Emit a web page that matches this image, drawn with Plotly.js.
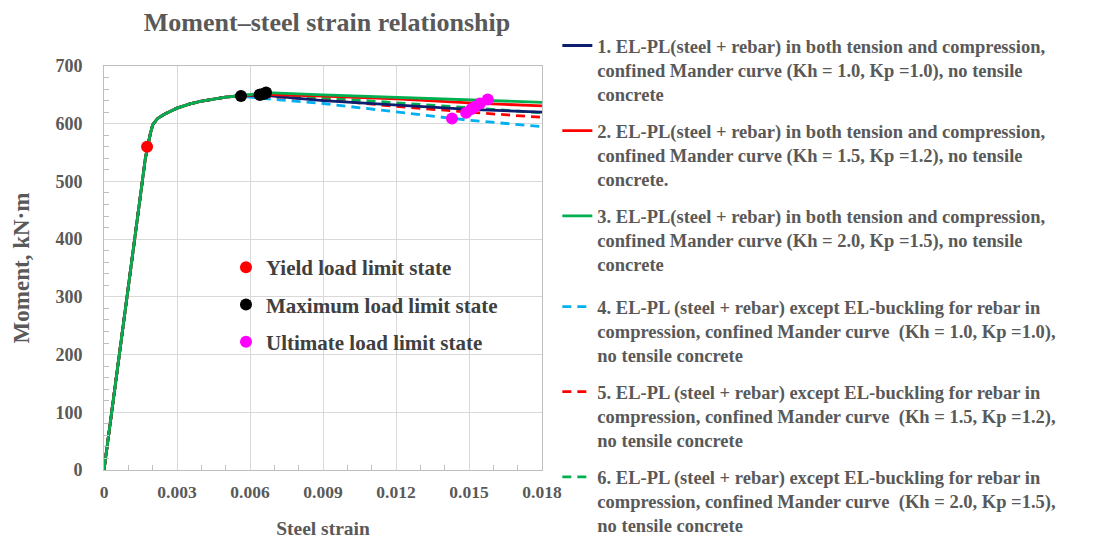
<!DOCTYPE html>
<html>
<head>
<meta charset="utf-8">
<script src="https://cdn.plot.ly/plotly-3.0.1.min.js"></script>
<style>html,body{margin:0;padding:0;background:#fff;} #chart{width:1094px;height:539px;}</style>
</head>
<body>
<div id="chart"></div>
<script>
// ---- shared rising branch (all six curves coincide here) ----
const strainRise = [0, 0.0017, 0.0019, 0.002, 0.0022, 0.0025, 0.003, 0.0035, 0.004, 0.0045, 0.005, 0.0055];
const momentRise = [0, 540, 582, 598, 609, 617, 627, 634, 639, 643, 646, 648];

// ---- post-peak branches of each curve ----
const strain1 = [0.0064, 0.009, 0.012, 0.015, 0.018];
const moment1 = [650, 640, 632, 625, 620];
const strain2 = [0.0065, 0.009, 0.012, 0.015, 0.018];
const moment2 = [651, 648, 643, 636, 631];
const strain3 = [0.0067, 0.009, 0.012, 0.015, 0.018];
const moment3 = [654, 650, 646, 641, 637];
const strain4 = [0.0057, 0.009, 0.012, 0.015, 0.018];
const moment4 = [647, 635, 621, 606, 595];
const strain5 = [0.006, 0.009, 0.012, 0.015, 0.018];
const moment5 = [649, 642, 630, 620, 611];
const strain6 = [0.0066, 0.009, 0.012, 0.015, 0.018];
const moment6 = [652, 645, 636, 628, 619];

// ---- limit-state points ----
const yieldStrain = [0.00177];
const yieldMoment = [560];
const maxStrain = [0.00563, 0.0064, 0.0064, 0.0065, 0.0066, 0.00666];
const maxMoment = [648, 650, 650, 651, 652, 654];
const ultStrain = [0.0143, 0.01488, 0.0151, 0.01525, 0.01545, 0.01577];
const ultMoment = [609, 619, 625.6, 629.6, 635, 642];

const seriesNames = [
  "1. EL-PL(steel + rebar) in both tension and compression,<br>confined Mander curve (Kh = 1.0, Kp =1.0), no tensile<br>concrete",
  "2. EL-PL(steel + rebar) in both tension and compression,<br>confined Mander curve (Kh = 1.5, Kp =1.2), no tensile<br>concrete.",
  "3. EL-PL(steel + rebar) in both tension and compression,<br>confined Mander curve (Kh = 2.0, Kp =1.5), no tensile<br>concrete",
  "4. EL-PL (steel + rebar) except EL-buckling for rebar in<br>compression, confined Mander curve  (Kh = 1.0, Kp =1.0),<br>no tensile concrete",
  "5. EL-PL (steel + rebar) except EL-buckling for rebar in<br>compression, confined Mander curve  (Kh = 1.5, Kp =1.2),<br>no tensile concrete",
  "6. EL-PL (steel + rebar) except EL-buckling for rebar in<br>compression, confined Mander curve  (Kh = 2.0, Kp =1.5),<br>no tensile concrete"
];
const markerNames = ["Yield load limit state", "Maximum load limit state", "Ultimate load limit state"];

const tails = [[strain1, moment1], [strain2, moment2], [strain3, moment3], [strain4, moment4], [strain5, moment5], [strain6, moment6]];
const colors = ["#0c1f6e", "#ff0000", "#00b050", "#00b0f0", "#ff0000", "#00b050"];
const dashes = ["solid", "solid", "solid", "9px,6px", "9px,6px", "9px,6px"];

const traces = [];
const order = [3, 4, 5, 0, 1, 2];
order.forEach(function (i) {
  traces.push({
    x: strainRise.concat(tails[i][0]),
    y: momentRise.concat(tails[i][1]),
    type: "scatter", mode: "lines",
    name: seriesNames[i],
    legend: i < 3 ? "legend" : "legend3",
    legendgroup: "g" + i,
    legendrank: i + 1,
    line: {color: colors[i], width: 2.8, dash: dashes[i]},
    hoverinfo: "skip"
  });
});
const mk = [[yieldStrain, yieldMoment, "#ff0000"], [maxStrain, maxMoment, "#000000"], [ultStrain, ultMoment, "#ff00ff"]];
mk.forEach(function (m, i) {
  traces.push({
    x: m[0], y: m[1], type: "scatter", mode: "markers",
    name: markerNames[i], legend: "legend2", legendgroup: "m" + i, legendrank: i + 1,
    marker: {color: m[2], size: 12}
  });
});

const txt = "#595959";
const seriesLegend = {
  x: 1.035, xanchor: "left", yanchor: "top",
  valign: "top", traceorder: "grouped", tracegroupgap: 10,
  font: {size: 18.5, color: txt, weight: "bold"},
  bgcolor: "rgba(0,0,0,0)", itemwidth: 30
};
const layout = {
  width: 1094, height: 539,
  margin: {l: 104, r: 552, t: 66, b: 69, autoexpand: false},
  paper_bgcolor: "#ffffff", plot_bgcolor: "#ffffff",
  font: {family: "Liberation Serif, Times New Roman, serif", color: txt, size: 17, weight: "bold"},
  title: {text: "Moment\u2013steel strain relationship", font: {size: 26, color: txt, weight: "bold"},
          x: 327 / 1094, xanchor: "center", y: 1 - 22 / 539, yanchor: "middle"},
  xaxis: {
    range: [0, 0.018], dtick: 0.003, tick0: 0, tickformat: "~g",
    showgrid: true, gridcolor: "#d9d9d9", gridwidth: 1,
    showline: true, linecolor: "#bfbfbf", linewidth: 1, mirror: true,
    ticks: "", zeroline: false,
    minor: {dtick: 0.001, ticks: "inside", ticklen: 5, tickcolor: "#bfbfbf", showgrid: false},
    tickfont: {size: 17.5, color: txt, weight: "bold"},
    ticklabelstandoff: 6,
    title: {text: "Steel strain", font: {size: 19.5, color: txt, weight: "bold"}, standoff: 20}
  },
  yaxis: {
    range: [0, 700], dtick: 100,
    showgrid: true, gridcolor: "#d9d9d9", gridwidth: 1,
    showline: true, linecolor: "#bfbfbf", linewidth: 1, mirror: true,
    ticks: "", zeroline: false,
    minor: {dtick: 20, ticks: "inside", ticklen: 5, tickcolor: "#bfbfbf", showgrid: false},
    tickfont: {size: 18, color: txt, weight: "bold"},
    ticklabelstandoff: 17,
    title: {text: "Moment, kN\u00b7m", font: {size: 23, color: txt, weight: "bold"}, standoff: 19}
  },
  showlegend: true,
  legend: Object.assign({}, seriesLegend, {y: (470 - 27) / 404}),
  legend3: Object.assign({}, seriesLegend, {y: (470 - 288) / 404}),
  legend2: {
    x: 0.2785, xanchor: "left", y: 0.552, yanchor: "top",
    traceorder: "grouped", tracegroupgap: 7,
    font: {size: 21, color: "#404040", weight: "bold"},
    bgcolor: "rgba(0,0,0,0)"
  }
};

Plotly.newPlot("chart", traces, layout, {displayModeBar: false, staticPlot: true});
</script>
</body>
</html>
